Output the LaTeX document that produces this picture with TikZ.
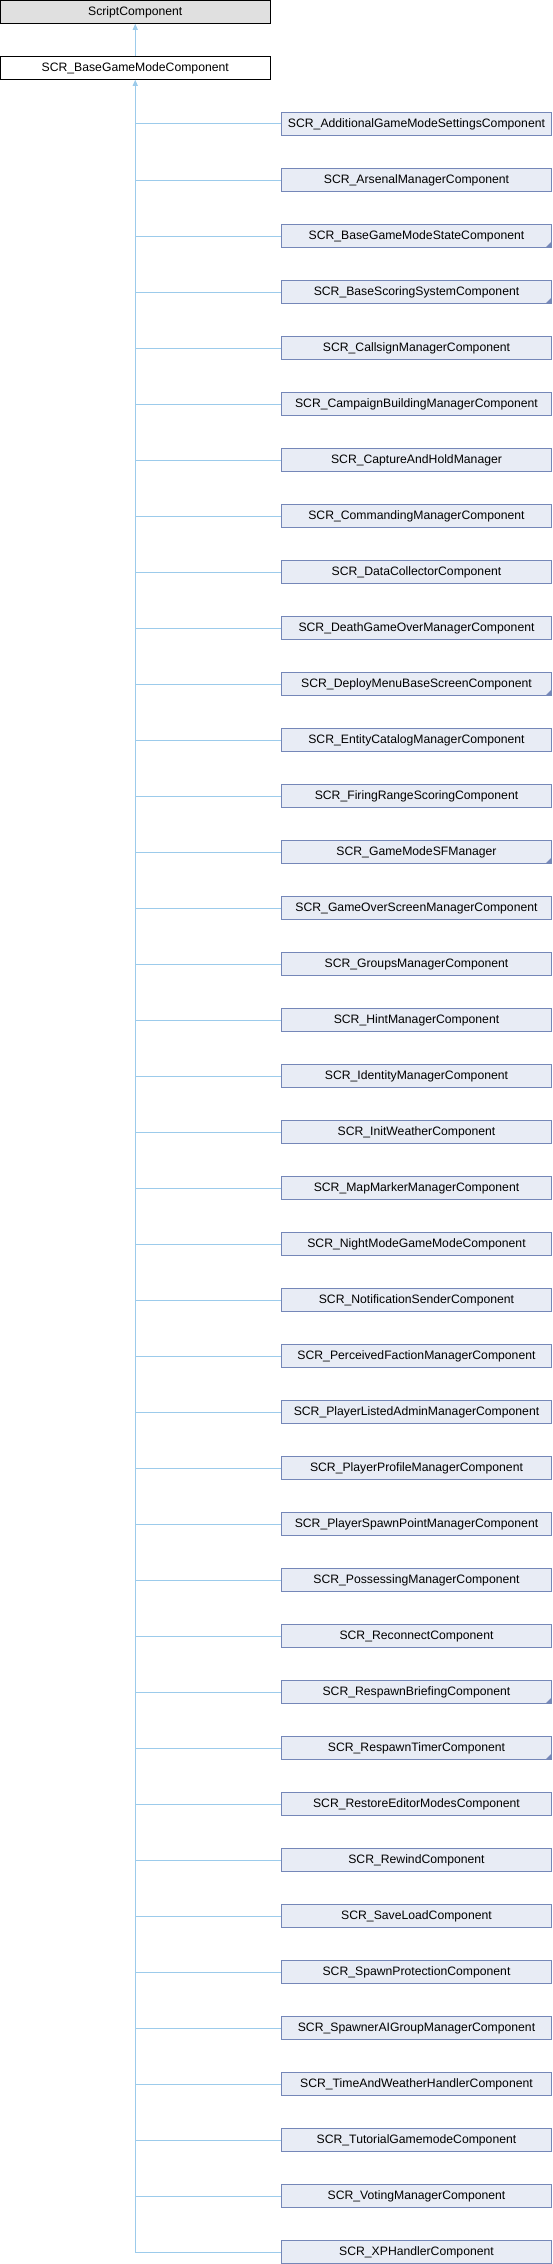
\documentclass[tikz,border=0pt]{standalone}
\usepackage{fontspec}
\setmainfont{Liberation Sans}
\usetikzlibrary{arrows.meta}
\definecolor{edgec}{HTML}{9CCBEB}
\definecolor{boxfill}{HTML}{E8ECF5}
\definecolor{boxdraw}{HTML}{7587B8}
\definecolor{greyfill}{HTML}{E0E0E0}
\begin{document}
\begin{tikzpicture}[x=1pt,y=-1pt,
  basebox/.style={line width=1pt, minimum height=22.6pt, inner sep=0pt, font=\fontsize{12.2}{14}\selectfont, anchor=center},
  cls/.style={basebox, draw=boxdraw, fill=boxfill, minimum width=270.5pt},
  topcls/.style={basebox, minimum width=269.5pt},
  edge/.style={draw=edgec, line width=1pt},
  inh/.style={edge, -{Triangle[length=6pt,width=5pt,fill=edgec]}},
  more/.style={fill=boxdraw, draw=none}]
\useasboundingbox (0,0) rectangle (552,2264);
\node[topcls, draw=black, fill=greyfill] (script) at (135.25,12) {ScriptComponent};
\node[topcls, draw=black, fill=white] (base) at (135.25,68) {SCR\_BaseGameModeComponent};
\draw[inh] (base.north) -- (script.south);
\foreach \nm [count=\i] in {
 SCR\_AdditionalGameModeSettingsComponent,
 SCR\_ArsenalManagerComponent,
 SCR\_BaseGameModeStateComponent,
 SCR\_BaseScoringSystemComponent,
 SCR\_CallsignManagerComponent,
 SCR\_CampaignBuildingManagerComponent,
 SCR\_CaptureAndHoldManager,
 SCR\_CommandingManagerComponent,
 SCR\_DataCollectorComponent,
 SCR\_DeathGameOverManagerComponent,
 SCR\_DeployMenuBaseScreenComponent,
 SCR\_EntityCatalogManagerComponent,
 SCR\_FiringRangeScoringComponent,
 SCR\_GameModeSFManager,
 SCR\_GameOverScreenManagerComponent,
 SCR\_GroupsManagerComponent,
 SCR\_HintManagerComponent,
 SCR\_IdentityManagerComponent,
 SCR\_InitWeatherComponent,
 SCR\_MapMarkerManagerComponent,
 SCR\_NightModeGameModeComponent,
 SCR\_NotificationSenderComponent,
 SCR\_PerceivedFactionManagerComponent,
 SCR\_PlayerListedAdminManagerComponent,
 SCR\_PlayerProfileManagerComponent,
 SCR\_PlayerSpawnPointManagerComponent,
 SCR\_PossessingManagerComponent,
 SCR\_ReconnectComponent,
 SCR\_RespawnBriefingComponent,
 SCR\_RespawnTimerComponent,
 SCR\_RestoreEditorModesComponent,
 SCR\_RewindComponent,
 SCR\_SaveLoadComponent,
 SCR\_SpawnProtectionComponent,
 SCR\_SpawnerAIGroupManagerComponent,
 SCR\_TimeAndWeatherHandlerComponent,
 SCR\_TutorialGamemodeComponent,
 SCR\_VotingManagerComponent,
 SCR\_XPHandlerComponent} {
  \node[cls] (c\i) at (416.5,{68+56*\i}) {\nm};
  \coordinate (j\i) at (base.south |- c\i.west);
  \draw[edge] (j\i) -- (c\i.west);
}
\draw[inh] (j39) -- (base.south);
\foreach \i in {3,4,11,14,29,30} {
  \fill[more] ([shift={(-0.5,-0.5)}]c\i.south east) -- ++(-6,0) -- ++(6,-6) -- cycle;
}
\end{tikzpicture}
\end{document}
